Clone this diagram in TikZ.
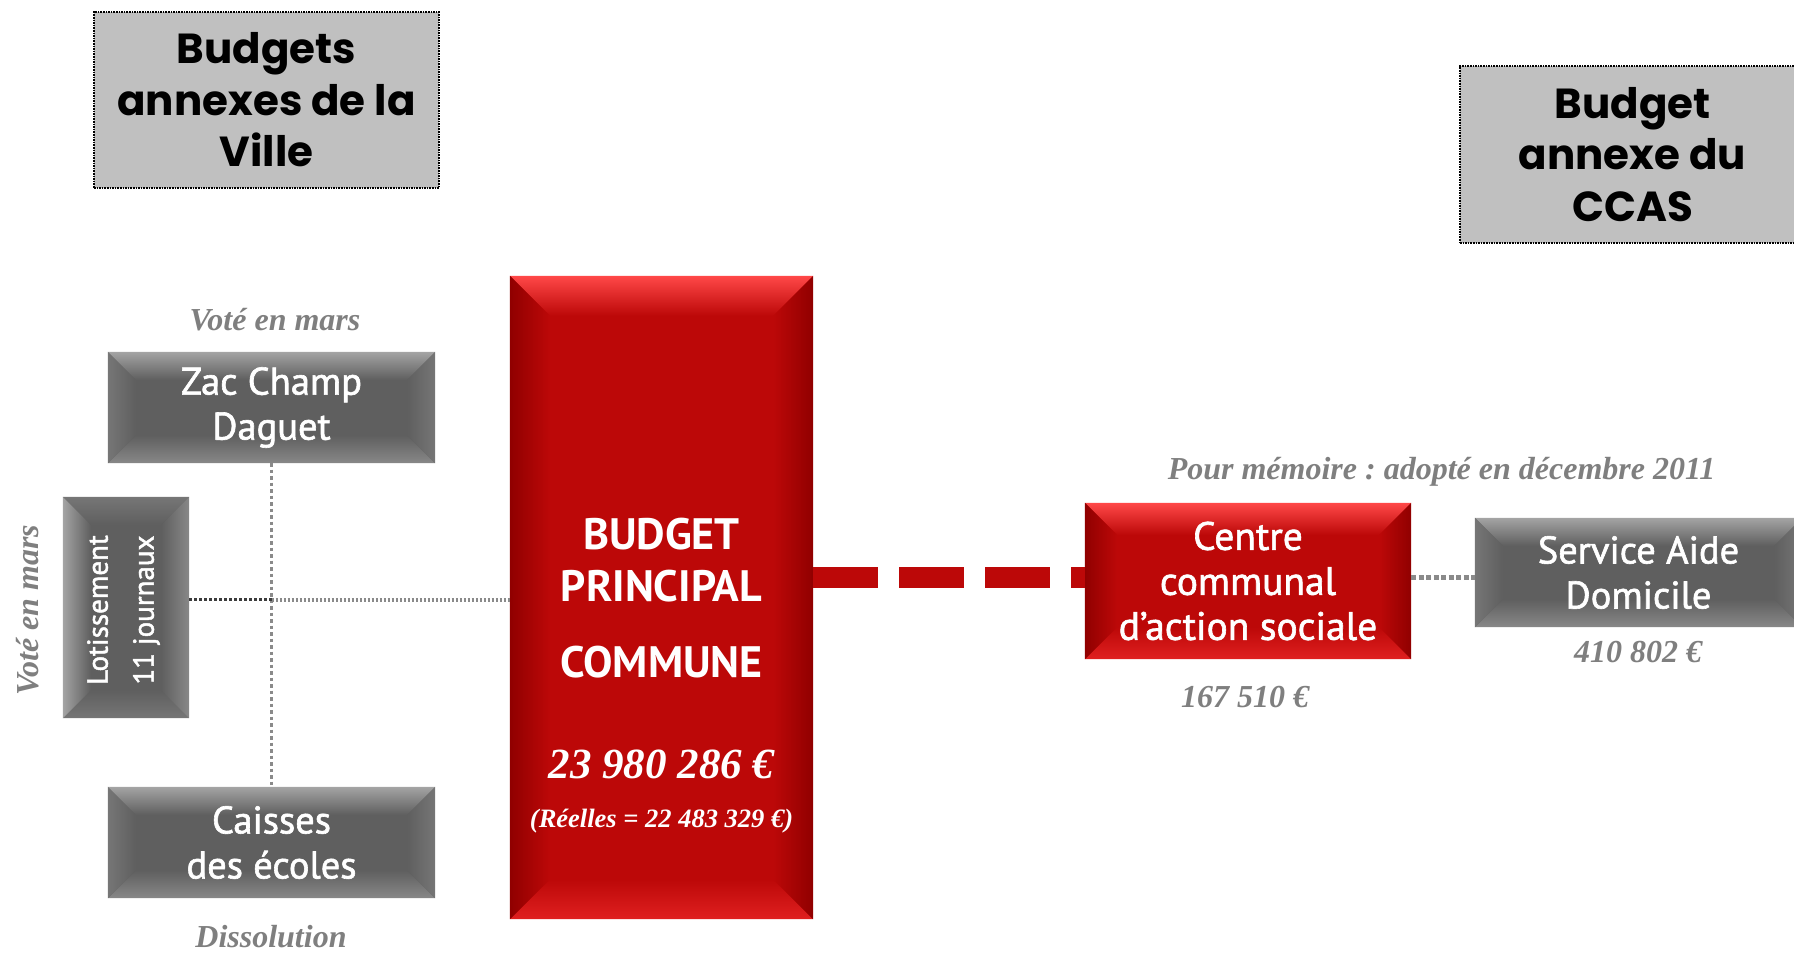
\documentclass[tikz,border=0pt]{standalone}
\usepackage{fontspec}
\setmainfont{Liberation Serif}
\newfontfamily\boxfont{PT Sans}[FakeBold=1.6]
\newfontfamily\boxfontb{PT Sans Bold}
\newfontfamily\gothic{Poppins}
\usetikzlibrary{calc,backgrounds}
\frenchspacing
\definecolor{boxgray}{HTML}{5F5F5F}
\definecolor{boxlight}{HTML}{A4A4A4}
\definecolor{boxside}{HTML}{767676}
\definecolor{boxbot}{HTML}{888888}
\definecolor{redmain}{HTML}{BC0808}
\definecolor{redlight}{HTML}{FF4848}
\definecolor{reddark}{HTML}{900000}
\definecolor{redbot}{HTML}{E02020}
\definecolor{hdrgray}{HTML}{C0C0C0}
\definecolor{notegray}{HTML}{7F7F7F}
\definecolor{dotgray}{HTML}{8A8A8A}
\definecolor{dotdark}{HTML}{3C3C3C}
% #1 node, #2 bevel, #3 main, #4 top, #5 left, #6 right, #7 bottom
\newcommand\bevelfill[7]{%
  \fill[#3] (#1.north west) rectangle (#1.south east);
  \shade[top color=#4, bottom color=#3] (#1.north west) -- (#1.north east) -- ($(#1.north east)+(-#2,#2)$) -- ($(#1.north west)+(#2,#2)$) -- cycle;
  \shade[top color=#3, bottom color=#7] (#1.south west) -- (#1.south east) -- ($(#1.south east)+(-#2,-#2)$) -- ($(#1.south west)+(#2,-#2)$) -- cycle;
  \shade[left color=#5, right color=#3] (#1.north west) -- (#1.south west) -- ($(#1.south west)+(#2,-#2)$) -- ($(#1.north west)+(#2,#2)$) -- cycle;
  \shade[left color=#3, right color=#6] (#1.north east) -- (#1.south east) -- ($(#1.south east)+(-#2,-#2)$) -- ($(#1.north east)+(-#2,#2)$) -- cycle;
}
\begin{document}
\begin{tikzpicture}[x=1pt,y=-1pt,
  hdr/.style={draw=black, densely dotted, line width=1.6pt, fill=hdrgray,
    font=\gothic\bfseries\fontsize{42}{51.5}\selectfont, align=center,
    inner sep=0pt, minimum width=345pt, minimum height=176pt},
  gbox/.style={text=white, font=\boxfont\fontsize{38.5}{45}\selectfont,
    align=center, inner sep=0pt},
  note/.style={text=notegray, font=\bfseries\itshape\fontsize{32}{36}\selectfont, inner sep=0pt},
  redtxt/.style={text=white, font=\boxfontb\fontsize{44}{51.5}\selectfont, align=center, inner sep=0pt},
  vdot/.style={draw=dotgray, line width=3.5pt, dash pattern=on 3.5pt off 3pt},
  ddot/.style={draw=dotdark, line width=3.5pt, dash pattern=on 3pt off 2pt},
  gdot/.style={draw=dotgray, line width=4pt, dash pattern=on 2.5pt off 1.5pt},
  rdot/.style={draw=dotgray, line width=5pt, dash pattern=on 5pt off 2.5pt},
  reddash/.style={draw=redmain, line width=21pt, dash pattern=on 65pt off 21pt}
]
\useasboundingbox (0,0) rectangle (1794,953);
\clip (0,0) rectangle (1794,953);

% header boxes
\node[hdr] (hv) at (266.5,100) {Budgets\\annexes de la\\Ville};
\node[hdr, minimum height=177pt] (hc) at (1632.5,154.5) {Budget\\annexe du\\CCAS};

% grey boxes
\node[gbox, minimum width=327pt, minimum height=111pt] (zac) at (271.5,407.5) {Zac Champ\\Daguet};
\node[gbox, minimum width=126pt, minimum height=221pt] (lot) at (126,607.5) {};
\node[gbox, rotate=90, font=\boxfont\fontsize{29}{46}\selectfont] (lott) at (123.5,610) {Lotissement\\11 journaux};
\node[gbox, minimum width=327pt, minimum height=111pt] (cai) at (271.5,842.5) {Caisses\\des écoles};
\node[gbox, minimum width=327pt, minimum height=109pt] (sad) at (1638.5,572.5) {Service Aide\\Domicile};

% red boxes
\node[inner sep=0pt, minimum width=303pt, minimum height=643pt] (bp) at (661.5,597.5) {};
\node[redtxt] (bpt) at (661.5,560) {BUDGET\\PRINCIPAL};
\node[redtxt] (bpc) at (661.5,662) {COMMUNE};
\node[text=white, font=\bfseries\itshape\fontsize{43}{48}\selectfont, inner sep=0pt] (bpm) at (661.5,764) {23 980 286 €};
\node[text=white, font=\bfseries\itshape\fontsize{26.5}{30}\selectfont, inner sep=0pt] (bpr) at (661.5,821) {(Réelles = 22 483 329 €)};
\node[gbox, minimum width=326pt, minimum height=156pt, font=\boxfont\fontsize{39.5}{45}\selectfont] (cen) at (1248,581) {Centre\\communal\\d’action sociale};

% notes
\node[note] (v1) at (275,320) {Voté en mars};
\node[note, rotate=90] (v2) at (27.5,610) {Voté en mars};
\node[note] (dis) at (271,937) {Dissolution};
\node[note] (pm) at (1441.5,471.5) {Pour mémoire : adopté en décembre 2011};
\node[note] (c1) at (1245,697) {167 510 €};
\node[note] (c2) at (1638,652) {410 802 €};

% bevel fills
\begin{scope}[on background layer]
  \bevelfill{zac}{28}{boxgray}{boxlight}{boxside}{boxside}{boxbot}
  \bevelfill{cai}{28}{boxgray}{boxlight}{boxside}{boxside}{boxbot}
  \bevelfill{sad}{28}{boxgray}{boxlight}{boxside}{boxside}{boxbot}
  \bevelfill{lot}{28}{boxgray}{boxside}{boxlight}{boxbot}{boxside}
  \bevelfill{bp}{40}{redmain}{redlight}{reddark}{reddark}{redbot}
  \bevelfill{cen}{32}{redmain}{redlight}{reddark}{reddark}{redbot}
\end{scope}

% connectors
\coordinate (j) at (271.5,599.5);
\coordinate (r) at (1000,577.5);
\draw[vdot] (zac.south) -- (cai.north);
\draw[ddot] (lot.east |- j) -- (j);
\draw[gdot] (j) -- (bp.west |- j);
\draw[reddash] (bp.east |- r) -- (cen.west |- r);
\draw[rdot] (cen.east |- r) -- (sad.west |- r);
\end{tikzpicture}
\end{document}
